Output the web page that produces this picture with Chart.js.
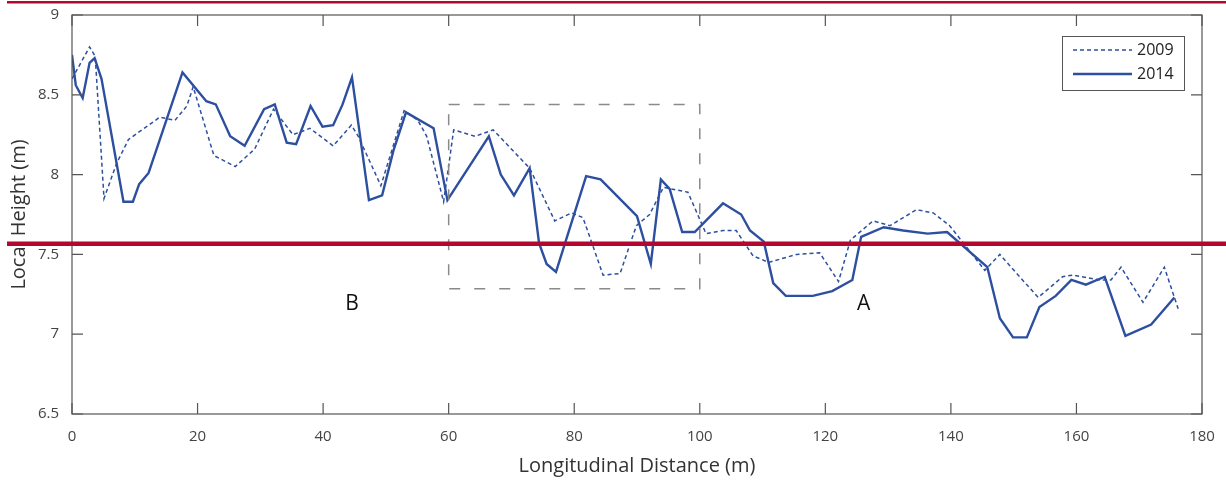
<!DOCTYPE html>
<html>
<head>
<meta charset="utf-8">
<script src="https://cdn.jsdelivr.net/npm/chart.js@4.4.0/dist/chart.umd.min.js"></script>
<style>
  body { margin: 0; background: #fff; }
  #wrap { width: 1226px; height: 482px; }
</style>
</head>
<body>
<div id="wrap"><canvas id="perfil" width="1226" height="482"></canvas></div>
<script>
// Dados (distancia em m, altura em m)
const dist2009 = [0, 2.8, 3.7, 5.1, 7.1, 9.0, 14.0, 16.4, 18.3, 19.3, 22.6, 26.0, 29.1, 32.1, 35.2, 37.9,
  41.6, 44.5, 45.6, 49.2, 52.9, 55.1, 56.5, 59.2, 60.8, 64.2, 67.1, 72.9, 76.9, 79.6, 81.4, 84.6,
  87.3, 89.9, 92.0, 94.2, 98.1, 101.0, 103.7, 105.8, 108.5, 111.0, 115.4, 119.1, 122.1, 124.0,
  127.6, 130.3, 134.5, 137.2, 139.8, 145.4, 147.8, 153.9, 157.8, 159.4, 163.7, 165.5, 167.1,
  170.6, 174.0, 176.2];
const altura2009 = [8.60, 8.80, 8.74, 7.85, 8.07, 8.22, 8.36, 8.34, 8.43, 8.55, 8.12, 8.05, 8.16, 8.41, 8.25, 8.29,
  8.18, 8.31, 8.24, 7.93, 8.40, 8.34, 8.24, 7.83, 8.28, 8.24, 8.28, 8.04, 7.71, 7.76, 7.73, 7.37,
  7.38, 7.68, 7.75, 7.92, 7.89, 7.63, 7.65, 7.65, 7.49, 7.45, 7.50, 7.51, 7.33, 7.59,
  7.71, 7.68, 7.78, 7.76, 7.68, 7.40, 7.50, 7.23, 7.36, 7.37, 7.34, 7.34, 7.42,
  7.20, 7.42, 7.16];

const dist2014 = [0, 0.6, 1.7, 2.8, 3.6, 4.7, 8.2, 9.7, 10.7, 12.2, 17.6, 21.4, 22.9, 25.2, 27.5, 30.6,
  32.3, 34.2, 35.7, 38.0, 39.9, 41.6, 43.1, 44.6, 47.3, 49.4, 51.2, 53.2, 57.6, 59.8, 66.4, 68.3,
  70.4, 72.9, 74.4, 75.6, 77.1, 81.9, 84.2, 90.0, 92.2, 93.8, 95.2, 97.2, 99.2, 103.7, 106.6,
  108.0, 110.2, 111.7, 113.7, 118.0, 121.1, 124.3, 125.7, 129.3, 132.4, 136.3, 139.4, 145.8,
  147.8, 149.9, 152.1, 154.1, 156.7, 159.2, 161.5, 164.5, 167.8, 171.9, 175.6];
const altura2014 = [8.75, 8.56, 8.48, 8.70, 8.73, 8.60, 7.83, 7.83, 7.94, 8.01, 8.64, 8.46, 8.44, 8.24, 8.18, 8.41,
  8.44, 8.20, 8.19, 8.43, 8.30, 8.31, 8.44, 8.61, 7.84, 7.87, 8.15, 8.39, 8.29, 7.84, 8.24, 8.00,
  7.87, 8.04, 7.57, 7.44, 7.39, 7.99, 7.97, 7.74, 7.44, 7.97, 7.91, 7.64, 7.64, 7.82, 7.75,
  7.65, 7.58, 7.32, 7.24, 7.24, 7.27, 7.34, 7.61, 7.67, 7.65, 7.63, 7.64, 7.42,
  7.10, 6.98, 6.98, 7.17, 7.24, 7.34, 7.31, 7.36, 6.99, 7.06, 7.23];

const xTicks = [0, 20, 40, 60, 80, 100, 120, 140, 160, 180];
const yTicks = [6.5, 7, 7.5, 8, 8.5, 9];

// trecho destacado e rotulos
const caixaX = [60, 100];
const caixaY = [7.285, 8.44];
const rotulos = [{ texto: "B", x: 44.6, y: 7.19 }, { texto: "A", x: 126.1, y: 7.19 }];

const azul = "#2d4f9f";
const cinza = "#444";
const fonte = "'Open Sans', 'Noto Sans', sans-serif";

function pontos(xs, ys) {
  return xs.map((x, i) => ({ x: x, y: ys[i] }));
}

// desenha ticks internos, moldura, caixa tracejada, rotulos e legenda
const extras = {
  id: "extras",
  afterDatasetsDraw(chart) {
    const ctx = chart.ctx;
    const a = chart.chartArea;
    const sx = chart.scales.x, sy = chart.scales.y;
    ctx.save();

    // caixa tracejada
    ctx.strokeStyle = "#8a8a8a";
    ctx.lineWidth = 1.5;
    ctx.setLineDash([11, 14]);
    const x0 = sx.getPixelForValue(caixaX[0]), x1 = sx.getPixelForValue(caixaX[1]);
    const y0 = sy.getPixelForValue(caixaY[1]), y1 = sy.getPixelForValue(caixaY[0]);
    ctx.strokeRect(x0, y0, x1 - x0, y1 - y0);
    ctx.setLineDash([]);

    // moldura e ticks
    ctx.strokeStyle = "#555";
    ctx.lineWidth = 1.2;
    ctx.strokeRect(a.left, a.top, a.right - a.left, a.bottom - a.top);
    ctx.beginPath();
    xTicks.forEach(v => {
      const p = sx.getPixelForValue(v);
      ctx.moveTo(p, a.bottom); ctx.lineTo(p, a.bottom - 11);
      ctx.moveTo(p, a.top); ctx.lineTo(p, a.top + 11);
    });
    yTicks.forEach(v => {
      const p = sy.getPixelForValue(v);
      ctx.moveTo(a.left, p); ctx.lineTo(a.left + 11, p);
      ctx.moveTo(a.right, p); ctx.lineTo(a.right - 11, p);
    });
    ctx.stroke();

    // rotulos A e B
    ctx.fillStyle = "#111";
    ctx.font = "21px " + fonte;
    ctx.textAlign = "center";
    ctx.textBaseline = "middle";
    rotulos.forEach(r => ctx.fillText(r.texto, sx.getPixelForValue(r.x), sy.getPixelForValue(r.y)));

    // legenda
    const lx = 1062, ly = 36, lw = 122, lh = 54;
    ctx.fillStyle = "#fff";
    ctx.fillRect(lx, ly, lw, lh);
    ctx.strokeStyle = "#555";
    ctx.lineWidth = 1;
    ctx.strokeRect(lx + 0.5, ly + 0.5, lw, lh);
    chart.data.datasets.forEach((ds, i) => {
      const yy = ly + 14 + i * 24;
      ctx.strokeStyle = ds.borderColor;
      ctx.lineWidth = ds.borderWidth;
      ctx.setLineDash(ds.borderDash || []);
      ctx.beginPath();
      ctx.moveTo(lx + 11, yy); ctx.lineTo(lx + 70, yy);
      ctx.stroke();
      ctx.setLineDash([]);
      ctx.fillStyle = "#222";
      ctx.font = "16px " + fonte;
      ctx.textAlign = "left";
      ctx.fillText(ds.label, lx + 75, yy);
    });
    ctx.restore();
  },
  afterDraw(chart) {
    // linhas vermelhas por cima da figura
    const ctx = chart.ctx;
    ctx.save();
    ctx.fillStyle = "#b3072f";
    ctx.fillRect(7, 1, 1219, 2.5);
    ctx.fillRect(7, 241.5, 1219, 4.5);
    ctx.restore();
  }
};

const ctx = document.getElementById("perfil");

const grafico = new Chart(ctx, {
  type: "line",
  data: {
    datasets: [
      {
        label: "2009",
        data: pontos(dist2009, altura2009),
        borderColor: azul,
        borderWidth: 1.5,
        borderDash: [4, 3],
        pointRadius: 0,
        tension: 0
      },
      {
        label: "2014",
        data: pontos(dist2014, altura2014),
        borderColor: azul,
        borderWidth: 2.4,
        pointRadius: 0,
        tension: 0
      }
    ]
  },
  options: {
    responsive: false,
    animation: false,
    layout: { padding: { top: 15, right: 24, left: 0, bottom: 0 } },
    plugins: { legend: { display: false }, tooltip: { enabled: false } },
    scales: {
      x: {
        type: "linear",
        min: 0,
        max: 180,
        afterBuildTicks: s => { s.ticks = xTicks.map(v => ({ value: v })); },
        afterFit: s => { s.height = 68; s.paddingLeft = 0; s.paddingRight = 0; },
        grid: { display: false, drawTicks: false },
        border: { display: false },
        ticks: { padding: 14, color: cinza, font: { family: fonte, size: 15 }, maxRotation: 0 },
        title: { display: true, text: "Longitudinal Distance (m)", color: "#333",
                 font: { family: fonte, size: 20 }, padding: { top: 0, bottom: 4 } }
      },
      y: {
        min: 6.5,
        max: 9,
        afterBuildTicks: s => { s.ticks = yTicks.map(v => ({ value: v })); },
        afterFit: s => { s.width = 72; s.paddingTop = 0; s.paddingBottom = 0; },
        grid: { display: false, drawTicks: false },
        border: { display: false },
        ticks: { padding: 13, color: cinza, font: { family: fonte, size: 15 },
                 callback: v => String(v) },
        title: { display: true, text: "Local Height (m)", color: "#333",
                 font: { family: fonte, size: 20 }, padding: { top: 7, bottom: 0 } }
      }
    }
  },
  plugins: [extras]
});
</script>
</body>
</html>
